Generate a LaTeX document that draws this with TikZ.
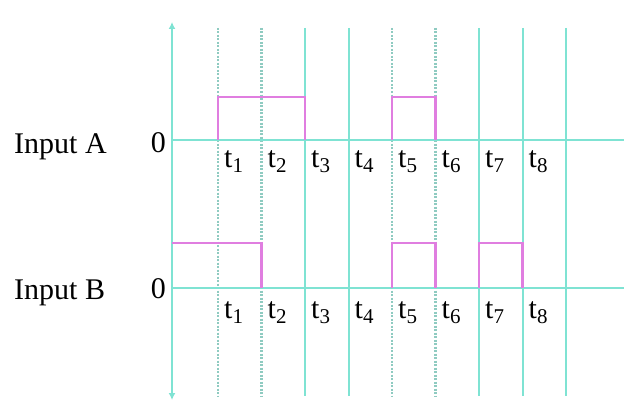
\documentclass[tikz,border=0pt]{standalone}
\usepackage{fontspec}
\setmainfont{Liberation Serif}
\usetikzlibrary{arrows.meta}
\definecolor{axiscyan}{HTML}{7FE3D3}
\definecolor{dotcyan}{HTML}{8FCBC1}
\definecolor{pulsepink}{HTML}{E07EE0}
\begin{document}
\begin{tikzpicture}[x=1pt,y=-1pt,
    every node/.style={inner sep=0pt,font=\fontsize{30}{34}\selectfont},
    axisline/.style={draw=axiscyan,line width=2.6pt},
    gridline/.style={draw=axiscyan,line width=2pt},
    dotline/.style={draw=dotcyan,line width=2.4pt,dash pattern=on 2pt off 1.5pt},
    pulse/.style={draw=pulsepink,line width=2.6pt,line join=miter}]
    \useasboundingbox (0,0) rectangle (624,404);
    % reference points
    \coordinate (axtop) at (172,22);
    \coordinate (axbot) at (172,400);
    \coordinate (aZero) at (172,140);
    \coordinate (bZero) at (172,288);
    \coordinate (aHigh) at (172,97);
    \coordinate (bHigh) at (172,243);
    \coordinate (aEnd) at (624,140);
    \coordinate (bEnd) at (624,288);
    % time lines
    \foreach \i in {1,...,9} {
        \coordinate (top\i) at ({218+43.5*(\i-1)},28);
        \coordinate (bot\i) at ({218+43.5*(\i-1)},396);
    }
    \foreach \i in {3,4,7,8,9} \draw[gridline] (top\i)--(bot\i);
    \foreach \i in {1,2,5,6} \draw[dotline] (top\i)--(bot\i);
    % axes
    \draw[axisline] (aZero)--(aEnd);
    \draw[axisline] (bZero)--(bEnd);
    \draw[axisline,{Latex[length=7pt,width=7pt]}-{Latex[length=7pt,width=7pt]}] (axbot)--(axtop);
    % input A
    \draw[pulse] (top1 |- aZero)--(top1 |- aHigh)--(top3 |- aHigh)--(top3 |- aZero);
    \draw[pulse] (top5 |- aZero)--(top5 |- aHigh)--(top6 |- aHigh)--(top6 |- aZero);
    % input B
    \draw[pulse] (bHigh)--(top2 |- bHigh)--(top2 |- bZero);
    \draw[pulse] (top5 |- bZero)--(top5 |- bHigh)--(top6 |- bHigh)--(top6 |- bZero);
    \draw[pulse] (top7 |- bZero)--(top7 |- bHigh)--(top8 |- bHigh)--(top8 |- bZero);
    % labels
    \node[anchor=base west] (labA) at (14,153) {Input A};
    \node[anchor=base west] (labB) at (14,299) {Input B};
    \node[anchor=base east] (zeroA) at (166,152) {0};
    \node[anchor=base east] (zeroB) at (166,298) {0};
    \foreach \i in {1,...,8} {
        \node[anchor=base west] (tA\i) at ([xshift=6pt,yshift=-27pt]top\i |- aZero) {t\textsubscript{\i}};
        \node[anchor=base west] (tB\i) at ([xshift=6pt,yshift=-30pt]top\i |- bZero) {t\textsubscript{\i}};
    }
\end{tikzpicture}
\end{document}
